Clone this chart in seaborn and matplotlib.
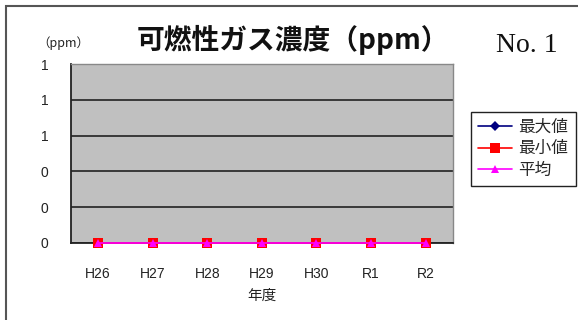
import matplotlib
matplotlib.use("Agg")
import matplotlib.pyplot as plt
from matplotlib.patches import Rectangle
from matplotlib.ticker import FormatStrFormatter, FixedLocator
import numpy as np
import pandas as pd
import seaborn as sns

# Annual combustible gas concentration (ppm)
years = ["H26", "H27", "H28", "H29", "H30", "R1", "R2"]
max_vals = [0, 0, 0, 0, 0, 0, 0]
min_vals = [0, 0, 0, 0, 0, 0, 0]
avg_vals = [0, 0, 0, 0, 0, 0, 0]
series_names = ["最大値", "最小値", "平均"]

sns.set_theme(style="white")
plt.rcParams["font.family"] = ["Liberation Sans", "Noto Sans CJK JP"]
cjk = ["Noto Sans CJK JP", "Liberation Sans"]

W, H = 578, 320
fig = plt.figure(figsize=(W / 100, H / 100), dpi=100)
ax = fig.add_axes([70.7 / W, 1 - 243 / H, (453 - 70.7) / W, (243 - 64) / H])
ax.set_facecolor("#C0C0C0")

df = pd.DataFrame({
    "x": list(range(len(years))) * 3,
    "value": max_vals + min_vals + avg_vals,
    "series": [series_names[0]] * len(years) + [series_names[1]] * len(years)
    + [series_names[2]] * len(years),
})

styles = {
    "最大値": dict(color="#000080", marker="D", ms=5),
    "最小値": dict(color="#FF0000", marker="s", ms=7),
    "平均": dict(color="#FF00FF", marker="^", ms=6),
}
for name in series_names:
    st = styles[name]
    sns.lineplot(data=df[df["series"] == name], x="x", y="value", ax=ax,
                 color=st["color"], marker=st["marker"], markersize=st["ms"],
                 markeredgewidth=0, linewidth=1.2, label=name, zorder=5,
                 clip_on=False, legend=False)

ax.set_xlim(-0.5, len(years) - 0.5)
ax.set_ylim(0, 1)
ax.yaxis.set_major_locator(FixedLocator(np.linspace(0, 1, 6)))
ax.yaxis.set_major_formatter(FormatStrFormatter("%.0f"))
ax.set_xticks(range(len(years)))
ax.set_xticklabels(years)
ax.set_xticks(np.arange(-0.5, len(years), 1.0), minor=True)
ax.tick_params(axis="x", which="major", length=0, pad=17, labelsize=10,
               labelcolor="#222222")
ax.tick_params(axis="x", which="minor", direction="in", length=4,
               width=1, color="#222222")
ax.tick_params(axis="y", direction="in", length=4, width=1, pad=16,
               labelsize=10, labelcolor="#222222", color="#222222")
for lab in ax.get_yticklabels():
    lab.set_horizontalalignment("right")

ax.grid(axis="y", color="#222222", linewidth=1.2)
ax.set_axisbelow(True)
for side in ("left", "bottom"):
    ax.spines[side].set_color("#222222")
    ax.spines[side].set_linewidth(1.3)
for side in ("top", "right"):
    ax.spines[side].set_color("#888888")
    ax.spines[side].set_linewidth(1.0)

ax.set_xlabel("年度", family=cjk, fontsize=10.5, labelpad=6, color="#222222")
ax.set_ylabel("")

# Titles and unit label
fig.text(293 / W, 1 - 40 / H, "可燃性ガス濃度（ppm）", family=cjk,
         fontsize=20, fontweight="bold", ha="center", va="center",
         color="#111111")
fig.text(63 / W, 1 - 43 / H, "（ppm）", family=cjk, fontsize=9,
         ha="center", va="center", color="#222222")
fig.text(527 / W, 1 - 45 / H, "No. 1", family=["Liberation Serif"],
         fontsize=20, ha="center", va="center", color="#111111")

# Legend
handles, labels = ax.get_legend_handles_labels()
leg = fig.legend(handles, labels, loc="upper left",
                 bbox_to_anchor=(470.7 / W, 1 - 111.7 / H),
                 prop={"family": cjk, "size": 12}, frameon=True,
                 fancybox=False, framealpha=1, edgecolor="#222222",
                 handlelength=2.0, handletextpad=0.4, labelspacing=0.25,
                 borderpad=0.45, borderaxespad=0)
leg.get_frame().set_linewidth(1.0)

# Outer chart frame
fig.patches.append(Rectangle((6 / W, -0.1), 1.2, 1 - 6 / H + 0.1,
                             transform=fig.transFigure, fill=False,
                             edgecolor="#555555", linewidth=1.5))

fig.savefig("out.png", dpi=100)
